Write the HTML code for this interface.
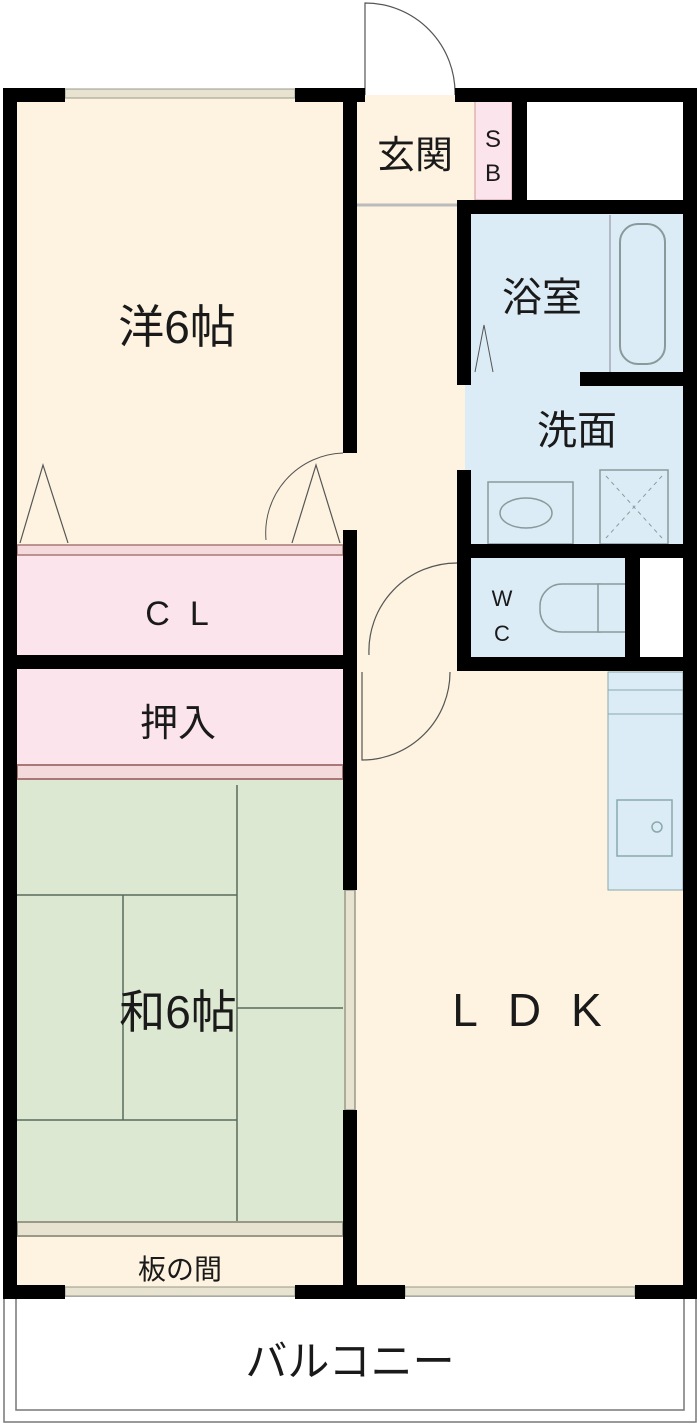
<!DOCTYPE html>
<html><head><meta charset="utf-8"><style>
html,body{margin:0;padding:0;background:#fff;}
svg{display:block;}
text{font-family:"Liberation Sans","Noto Sans CJK JP",sans-serif;fill:#1a1a1a;}
</style></head><body>
<svg width="700" height="1426" viewBox="0 0 700 1426" xmlns="http://www.w3.org/2000/svg">
<rect width="700" height="1426" fill="#fff"/>
<rect x="4" y="1296" width="692" height="126" fill="#fff" stroke="#777" stroke-width="1.5"/>
<rect x="16" y="1296" width="668" height="114" fill="#fff" stroke="#777" stroke-width="1.5"/>
<rect x="10" y="95" width="340" height="455" fill="#fdf3e0"/>
<rect x="10" y="548" width="340" height="110" fill="#fbe4ec"/>
<rect x="10" y="665" width="340" height="112" fill="#fbe4ec"/>
<rect x="10" y="777" width="340" height="453" fill="#dde8d2"/>
<rect x="10" y="1230" width="340" height="60" fill="#fdf3e0"/>
<rect x="350" y="95" width="125" height="570" fill="#fdf3e0"/>
<rect x="475" y="100" width="37" height="100" fill="#fbe4ec" stroke="#c99" stroke-width="1"/>
<rect x="350" y="665" width="340" height="625" fill="#fdf3e0"/>
<rect x="465" y="210" width="225" height="340" fill="#dcecf6"/>
<rect x="465" y="552" width="165" height="110" fill="#dcecf6"/>
<rect x="608" y="672" width="75" height="218" fill="#dcecf6" stroke="#8aa" stroke-width="1"/>
<line x1="610" y1="215" x2="610" y2="372" stroke="#889" stroke-width="1"/>
<rect x="620" y="224" width="45" height="140" rx="18" fill="none" stroke="#8a9a9a" stroke-width="2"/>
<rect x="488" y="482" width="85" height="62" fill="none" stroke="#8a9a9a" stroke-width="1.5"/>
<ellipse cx="526" cy="513" rx="26" ry="15" fill="none" stroke="#8a9a9a" stroke-width="1.5"/>
<rect x="600" y="470" width="68" height="74" fill="none" stroke="#8a9a9a" stroke-width="1.5"/>
<line x1="606" y1="476" x2="662" y2="538" stroke="#8a9a9a" stroke-dasharray="4,4"/>
<line x1="662" y1="476" x2="606" y2="538" stroke="#8a9a9a" stroke-dasharray="4,4"/>
<rect x="540" y="584" width="80" height="48" rx="22" fill="none" stroke="#8a9a9a" stroke-width="1.5"/>
<rect x="598" y="584" width="28" height="48" fill="#dcecf6" stroke="#8a9a9a" stroke-width="1.5"/>
<line x1="608" y1="690" x2="683" y2="690" stroke="#8aa"/>
<line x1="608" y1="714" x2="683" y2="714" stroke="#8aa"/>
<rect x="617" y="800" width="55" height="56" fill="none" stroke="#8aa" stroke-width="1.5"/>
<circle cx="657" cy="827" r="5" fill="none" stroke="#8aa" stroke-width="1.5"/>
<g stroke="#5a6a5a" stroke-width="1.5">
<line x1="17" y1="895" x2="237" y2="895"/>
<line x1="237" y1="785" x2="237" y2="1225"/>
<line x1="123" y1="895" x2="123" y2="1120"/>
<line x1="17" y1="1120" x2="237" y2="1120"/>
<line x1="237" y1="1008" x2="343" y2="1008"/>
</g>
<rect x="17" y="545" width="326" height="10" fill="#f4dada" stroke="#a77" stroke-width="1.5"/>
<rect x="17" y="765" width="326" height="14" fill="#f4dada" stroke="#a77" stroke-width="2"/>
<rect x="17" y="1222" width="326" height="14" fill="#e8e2d0" stroke="#998" stroke-width="2"/>
<rect x="345" y="890" width="10" height="220" fill="#e8e2d0" stroke="#998" stroke-width="1.5"/>
<polyline points="20,543 43,465 68,543" fill="none" stroke="#555" stroke-width="1.2"/>
<polyline points="292,543 316,465 340,543" fill="none" stroke="#555" stroke-width="1.2"/>
<path d="M343,453 A80,80 0 0 0 266,540" fill="none" stroke="#555"/>
<polyline points="475,372 484,325 493,372" fill="none" stroke="#555"/>
<path d="M365,95 L365,3 A90,90 0 0 1 455,95" fill="none" stroke="#555" stroke-width="1.2"/>
<path d="M457,563 A88,88 0 0 0 369,655" fill="none" stroke="#555" stroke-width="1.2"/>
<path d="M362,672 L362,760 A88,88 0 0 0 450,672" fill="none" stroke="#555" stroke-width="1.2"/>
<line x1="357" y1="205" x2="457" y2="205" stroke="#bbb" stroke-width="3"/>
<rect x="65" y="89" width="230" height="9" fill="#e8e2d0" stroke="#998"/>
<rect x="65" y="1287" width="230" height="9" fill="#e8e2d0" stroke="#998"/>
<rect x="405" y="1287" width="230" height="9" fill="#e8e2d0" stroke="#998"/>
<g fill="#000">
<rect x="3" y="88" width="14" height="1210"/>
<rect x="683" y="88" width="14" height="1210"/>
<rect x="3" y="88" width="62" height="14"/>
<rect x="295" y="88" width="70" height="14"/>
<rect x="455" y="88" width="242" height="14"/>
<rect x="3" y="1285" width="62" height="14"/>
<rect x="295" y="1285" width="110" height="14"/>
<rect x="635" y="1285" width="62" height="14"/>
<rect x="343" y="88" width="14" height="365"/>
<rect x="343" y="530" width="14" height="360"/>
<rect x="343" y="1110" width="14" height="180"/>
<rect x="3" y="655" width="354" height="14"/>
<rect x="512" y="95" width="15" height="110"/>
<rect x="457" y="200" width="240" height="14"/>
<rect x="457" y="200" width="14" height="185"/>
<rect x="580" y="372" width="117" height="14"/>
<rect x="457" y="470" width="14" height="200"/>
<rect x="457" y="544" width="240" height="14"/>
<rect x="625" y="552" width="15" height="115"/>
<rect x="457" y="657" width="240" height="14"/>
</g>
<rect x="527" y="102" width="156" height="98" fill="#fff"/>
<rect x="640" y="558" width="43" height="99" fill="#fff"/>
<text x="177" y="343" font-size="46" text-anchor="middle">洋6帖</text>
<text x="187" y="625" font-size="34" text-anchor="middle" letter-spacing="20">CL</text>
<text x="178" y="736" font-size="38" text-anchor="middle">押入</text>
<text x="178" y="1028" font-size="46" text-anchor="middle">和6帖</text>
<text x="180" y="1279" font-size="28" text-anchor="middle">板の間</text>
<text x="415" y="168" font-size="38" text-anchor="middle">玄関</text>
<text x="493" y="147" font-size="24" text-anchor="middle">S</text>
<text x="493" y="181" font-size="24" text-anchor="middle">B</text>
<text x="542" y="311" font-size="40" text-anchor="middle">浴室</text>
<text x="577" y="444" font-size="40" text-anchor="middle">洗面</text>
<text x="502" y="606" font-size="22" text-anchor="middle">W</text>
<text x="502" y="641" font-size="22" text-anchor="middle">C</text>
<text x="542" y="1026" font-size="46" text-anchor="middle" letter-spacing="30">LDK</text>
<text x="350" y="1376" font-size="42" text-anchor="middle">バルコニー</text>
</svg>
</body></html>
